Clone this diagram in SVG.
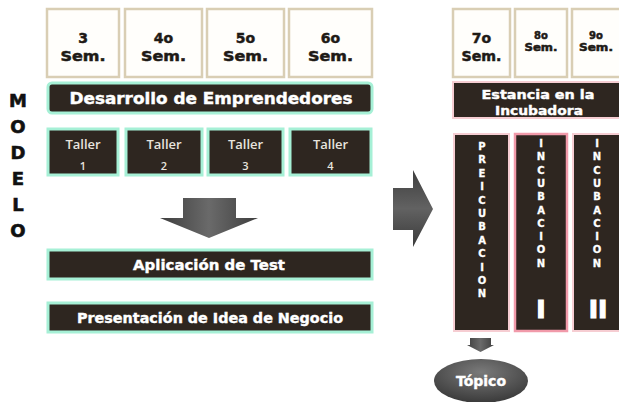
<svg xmlns="http://www.w3.org/2000/svg" width="619" height="402" viewBox="0 0 619 402">
<defs>
<style>
.sem{fill:#fffefb;stroke:#d9ceb4;stroke-width:2.5}
.semt{font-family:"DejaVu Sans","Liberation Sans",sans-serif;font-weight:bold;fill:#1e1a16;stroke:#1e1a16;stroke-width:0.5;text-anchor:middle}
.teal{fill:#2e2620;stroke:#a6f0d6;stroke-width:3}
.pink{fill:#2e2620;stroke:#f6cdd2;stroke-width:2}
.wt{font-family:"DejaVu Sans","Liberation Sans",sans-serif;font-weight:bold;fill:#ffffff;stroke:#ffffff;stroke-width:0.4;text-anchor:middle}
.tal{font-family:"Open Sans","Liberation Sans",sans-serif;font-weight:600;fill:#e8e4de;text-anchor:middle}
.vt{font-family:"DejaVu Sans","Liberation Sans",sans-serif;font-weight:bold;fill:#ffffff;stroke:#ffffff;stroke-width:0.3;text-anchor:middle;font-size:10px}
.mod{font-family:"DejaVu Sans","Liberation Sans",sans-serif;font-weight:bold;fill:#111;stroke:#111;stroke-width:0.6;text-anchor:middle;font-size:18px}
</style>
<linearGradient id="ga" x1="0" y1="0" x2="1" y2="0">
<stop offset="0" stop-color="#3e3e3e"/>
<stop offset="0.5" stop-color="#6a6a6a"/>
<stop offset="1" stop-color="#3e3e3e"/>
</linearGradient>
<linearGradient id="gb" x1="0" y1="0" x2="0" y2="1">
<stop offset="0" stop-color="#3e3e3e"/>
<stop offset="0.5" stop-color="#626262"/>
<stop offset="1" stop-color="#3a3a3a"/>
</linearGradient>
<radialGradient id="ge" cx="0.5" cy="0.3" r="0.7">
<stop offset="0" stop-color="#7a7a7a"/>
<stop offset="1" stop-color="#3a3a3a"/>
</radialGradient>
</defs>
<rect width="619" height="402" fill="#ffffff"/>

<g id="modelo">
<text class="mod" x="18" y="107">M</text>
<text class="mod" x="18" y="133">O</text>
<text class="mod" x="18" y="159">D</text>
<text class="mod" x="18" y="185">E</text>
<text class="mod" x="18" y="211">L</text>
<text class="mod" x="18" y="237">O</text>
</g>

<g id="sem3"><rect class="sem" x="47" y="9" width="72" height="68"/><text class="semt" x="83" y="43" font-size="14">3</text><text class="semt" x="83" y="61" font-size="14" textLength="45" lengthAdjust="spacingAndGlyphs">Sem.</text></g>
<g id="sem4"><rect class="sem" x="125" y="9" width="77" height="68"/><text class="semt" x="163.5" y="43" font-size="14">4o</text><text class="semt" x="163.5" y="61" font-size="14" textLength="45" lengthAdjust="spacingAndGlyphs">Sem.</text></g>
<g id="sem5"><rect class="sem" x="207" y="9" width="77" height="68"/><text class="semt" x="245.5" y="43" font-size="14">5o</text><text class="semt" x="245.5" y="61" font-size="14" textLength="45" lengthAdjust="spacingAndGlyphs">Sem.</text></g>
<g id="sem6"><rect class="sem" x="289" y="9" width="83" height="68"/><text class="semt" x="330.5" y="43" font-size="14">6o</text><text class="semt" x="330.5" y="61" font-size="14" textLength="45" lengthAdjust="spacingAndGlyphs">Sem.</text></g>

<g id="desarrollo"><rect class="teal" x="48" y="83" width="324" height="30" rx="4"/><text class="wt" x="211" y="104" font-size="15" textLength="283" lengthAdjust="spacingAndGlyphs">Desarrollo de Emprendedores</text></g>

<g id="taller1"><rect class="teal" x="48" y="129" width="70" height="46"/><text class="tal" x="83" y="149" font-size="13">Taller</text><text class="tal" x="83" y="170" font-size="11">1</text></g>
<g id="taller2"><rect class="teal" x="126" y="129" width="76" height="46"/><text class="tal" x="164" y="149" font-size="13">Taller</text><text class="tal" x="164" y="170" font-size="11">2</text></g>
<g id="taller3"><rect class="teal" x="208" y="129" width="75" height="46"/><text class="tal" x="245.5" y="149" font-size="13">Taller</text><text class="tal" x="245.5" y="170" font-size="11">3</text></g>
<g id="taller4"><rect class="teal" x="290" y="129" width="81" height="46"/><text class="tal" x="330.5" y="149" font-size="13">Taller</text><text class="tal" x="330.5" y="170" font-size="11">4</text></g>

<g id="aplicacion"><rect class="teal" x="48" y="250" width="324" height="29"/><text class="wt" x="209" y="270" font-size="14" textLength="152" lengthAdjust="spacingAndGlyphs">Aplicación de Test</text></g>
<g id="presentacion"><rect class="teal" x="48" y="303" width="324" height="29"/><text class="wt" x="210" y="323" font-size="14" textLength="266" lengthAdjust="spacingAndGlyphs">Presentación de Idea de Negocio</text></g>

<g id="sem7"><rect class="sem" x="453" y="9" width="57" height="68"/><text class="semt" x="481.5" y="43" font-size="14">7o</text><text class="semt" x="481.5" y="61" font-size="14" textLength="40" lengthAdjust="spacingAndGlyphs">Sem.</text></g>
<g id="sem8"><rect class="sem" x="515" y="9" width="52" height="68"/><text class="semt" x="541" y="39" font-size="10">8o</text><text class="semt" x="541" y="51" font-size="10" textLength="33" lengthAdjust="spacingAndGlyphs">Sem.</text></g>
<g id="sem9"><rect class="sem" x="572" y="9" width="50" height="68"/><text class="semt" x="596" y="39" font-size="10">9o</text><text class="semt" x="596" y="51" font-size="10" textLength="34" lengthAdjust="spacingAndGlyphs">Sem.</text></g>

<g id="estancia"><rect class="pink" x="453" y="82" width="170" height="36"/><text class="wt" x="538" y="99" font-size="12.5" textLength="113" lengthAdjust="spacingAndGlyphs">Estancia en la</text><text class="wt" x="539" y="115" font-size="12.5" textLength="88" lengthAdjust="spacingAndGlyphs">Incubadora</text></g>

<g id="preincubacion"><rect class="pink" x="454" y="134" width="55" height="197"/>
<text class="vt"><tspan x="482" y="150">P</tspan><tspan x="482" y="163.4">R</tspan><tspan x="482" y="176.8">E</tspan><tspan x="482" y="190.2">I</tspan><tspan x="482" y="203.6">C</tspan><tspan x="482" y="217">U</tspan><tspan x="482" y="230.4">B</tspan><tspan x="482" y="243.8">A</tspan><tspan x="482" y="257.2">C</tspan><tspan x="482" y="270.6">I</tspan><tspan x="482" y="284">O</tspan><tspan x="482" y="297.4">N</tspan></text></g>

<g id="incubacion1"><rect x="515" y="134" width="52" height="197" fill="#2e2620" stroke="#f19aaa" stroke-width="2.5"/>
<text class="vt"><tspan x="541" y="147">I</tspan><tspan x="541" y="160.3">N</tspan><tspan x="541" y="173.6">C</tspan><tspan x="541" y="186.9">U</tspan><tspan x="541" y="200.2">B</tspan><tspan x="541" y="213.5">A</tspan><tspan x="541" y="226.8">C</tspan><tspan x="541" y="240.1">I</tspan><tspan x="541" y="253.4">O</tspan><tspan x="541" y="266.7">N</tspan></text>
<text class="wt" x="541" y="318" font-size="25" style="stroke-width:1.2">I</text></g>

<g id="incubacion2"><rect class="pink" x="573" y="134" width="50" height="197"/>
<text class="vt"><tspan x="597" y="147">I</tspan><tspan x="597" y="160.3">N</tspan><tspan x="597" y="173.6">C</tspan><tspan x="597" y="186.9">U</tspan><tspan x="597" y="200.2">B</tspan><tspan x="597" y="213.5">A</tspan><tspan x="597" y="226.8">C</tspan><tspan x="597" y="240.1">I</tspan><tspan x="597" y="253.4">O</tspan><tspan x="597" y="266.7">N</tspan></text>
<text class="wt" x="598" y="318" font-size="25" style="stroke-width:1.2">II</text></g>

<g id="topico"><ellipse cx="481" cy="381" rx="47" ry="22" fill="url(#ge)"/><text class="wt" x="481" y="386" font-size="14">Tópico</text></g>

<g id="connectors">
<path d="M183 198 H236 V218 H258 L209 238 L160 218 H183 Z" fill="url(#ga)"/>
<path d="M393 188 H413 V170 L433 209 L413 247 V230 H393 Z" fill="url(#gb)"/>
<path d="M470 338 H491 V345 H494 L480.5 352 L467 345 H470 Z" fill="url(#ga)"/>
</g>
</svg>
